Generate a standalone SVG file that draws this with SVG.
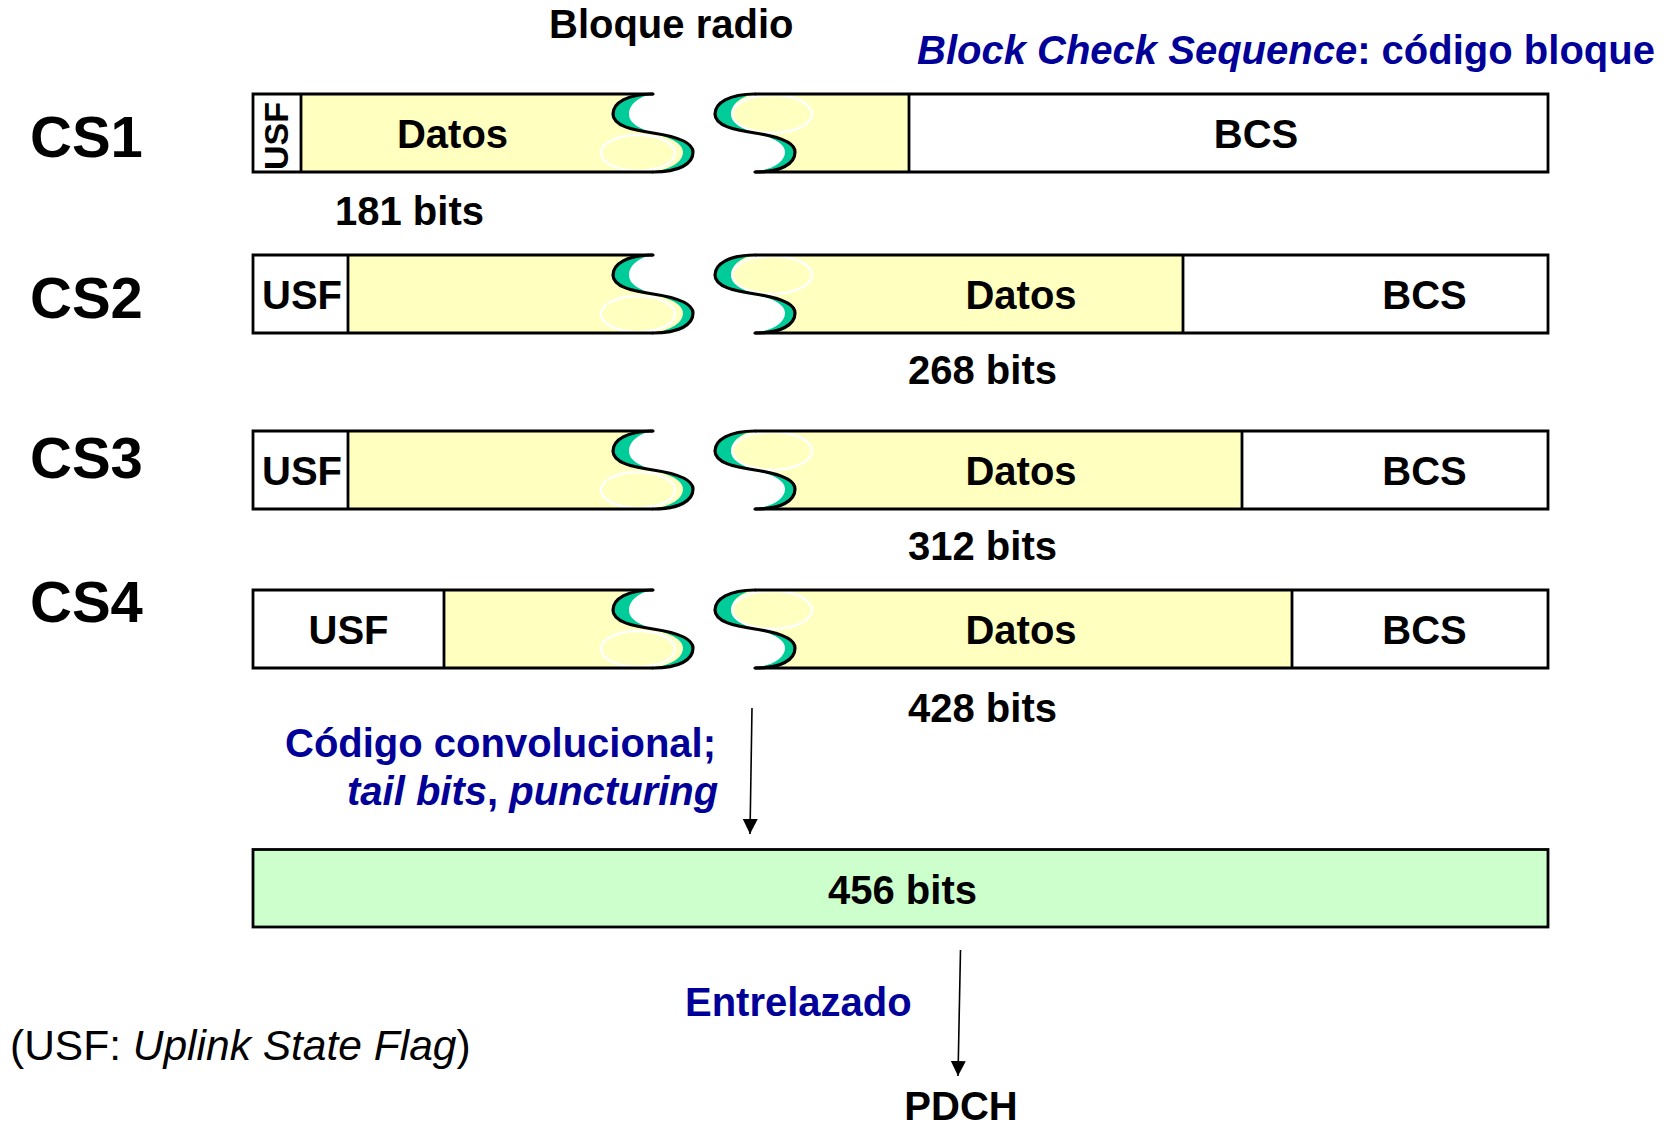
<svg xmlns="http://www.w3.org/2000/svg" xmlns:xlink="http://www.w3.org/1999/xlink" width="1665" height="1127" viewBox="0 0 1665 1127">
<style>
text{font-family:"Liberation Sans",Arial,Helvetica,sans-serif;font-weight:bold;fill:#000}
.blue{fill:#000099}
.lbl{font-size:40px}
.mid{text-anchor:middle}
.cs{font-size:58px}
.yel{fill:#FFFFBF;stroke:none}
.wht{fill:#FFFFFF;stroke:none}
.hl{fill:none;stroke:#FFFFFF;stroke-width:2.5}
.grn{fill:#00CC99;stroke:none}
.scv{fill:none;stroke:#000;stroke-width:3.2;stroke-linecap:round}
.edge{fill:none;stroke:#000;stroke-width:2.8}
.conn{fill:none;stroke:#000;stroke-width:1.6}
</style>
<defs>
<g id="scurve">
<path class="grn" d="M0,0 C-26,0 -40,9 -40,20 C-40,32 -20,36 0,39 C-12,35 -24,30 -24,20 C-24,10 -13,2 0,0 Z"/>
<path class="grn" d="M0,39 C20,42 40,47 40,58 C40,70 26,78 0,78 C18,75 30,68 30,58 C30,48 14,43 0,39 Z"/>
<path class="scv" d="M0,0 C-26,0 -40,9 -40,20 C-40,32 -20,36 0,39 C20,42 40,47 40,58 C40,70 26,78 0,78"/>
</g>
<marker id="ah" markerWidth="16" markerHeight="16" refX="15" refY="7.5" orient="auto" markerUnits="userSpaceOnUse">
<path d="M0,0 L15,7.5 L0,15 Z" fill="#000"/>
</marker>
</defs>
<rect width="1665" height="1127" fill="#FFFFFF"/>

<g id="titles">
<text class="lbl" x="549" y="38">Bloque radio</text>
<text class="blue" x="917" y="64" font-size="40"><tspan font-style="italic">Block Check Sequence</tspan>: código bloque</text>
</g>

<g id="cs-labels">
<text class="cs" x="30" y="157">CS1</text>
<text class="cs" x="30" y="318">CS2</text>
<text class="cs" x="30" y="478">CS3</text>
<text class="cs" x="30" y="622">CS4</text>
</g>

<g id="cs1" transform="translate(0,94)">
<path class="yel" d="M301,0 H653 C627,0 613,9 613,20 C613,32 633,36 653,39 C673,42 693,47 693,58 C693,70 679,78 653,78 H301 Z"/>
<rect class="wht" x="253" y="0" width="48" height="78"/>
<path class="yel" d="M755,0 C729,0 715,9 715,20 C715,32 735,36 755,39 C775,42 795,47 795,58 C795,70 781,78 755,78 H909 V0 Z"/>
<rect class="wht" x="909" y="0" width="639" height="78"/>
<ellipse class="hl" cx="638" cy="59" rx="37" ry="18"/>
<ellipse class="hl" cx="772" cy="20" rx="40" ry="19"/>
<use xlink:href="#scurve" href="#scurve" x="653" y="0"/>
<use xlink:href="#scurve" href="#scurve" x="755" y="0"/>
<path class="edge" d="M653,0 H253 V78 H653 M301,0 V78 M755,0 H1548 V78 H755 M909,0 V78"/>
<text class="mid" font-size="34" transform="translate(288,42) rotate(-90)">USF</text>
<text class="lbl mid" x="452.5" y="54">Datos</text>
<text class="lbl mid" x="1256" y="54">BCS</text>
</g>
<text id="cs1-bits" class="lbl" x="335" y="225">181 bits</text>

<g id="cs2" transform="translate(0,255)">
<path class="yel" d="M348,0 H653 C627,0 613,9 613,20 C613,32 633,36 653,39 C673,42 693,47 693,58 C693,70 679,78 653,78 H348 Z"/>
<rect class="wht" x="253" y="0" width="95" height="78"/>
<path class="yel" d="M755,0 C729,0 715,9 715,20 C715,32 735,36 755,39 C775,42 795,47 795,58 C795,70 781,78 755,78 H1183 V0 Z"/>
<rect class="wht" x="1183" y="0" width="365" height="78"/>
<ellipse class="hl" cx="638" cy="59" rx="37" ry="18"/>
<ellipse class="hl" cx="772" cy="20" rx="40" ry="19"/>
<use xlink:href="#scurve" href="#scurve" x="653" y="0"/>
<use xlink:href="#scurve" href="#scurve" x="755" y="0"/>
<path class="edge" d="M653,0 H253 V78 H653 M348,0 V78 M755,0 H1548 V78 H755 M1183,0 V78"/>
<text class="lbl mid" x="302" y="54">USF</text>
<text class="lbl mid" x="1021" y="54">Datos</text>
<text class="lbl mid" x="1424.5" y="54">BCS</text>
</g>
<text id="cs2-bits" class="lbl mid" x="982.5" y="384">268 bits</text>

<g id="cs3" transform="translate(0,431)">
<path class="yel" d="M348,0 H653 C627,0 613,9 613,20 C613,32 633,36 653,39 C673,42 693,47 693,58 C693,70 679,78 653,78 H348 Z"/>
<rect class="wht" x="253" y="0" width="95" height="78"/>
<path class="yel" d="M755,0 C729,0 715,9 715,20 C715,32 735,36 755,39 C775,42 795,47 795,58 C795,70 781,78 755,78 H1242 V0 Z"/>
<rect class="wht" x="1242" y="0" width="306" height="78"/>
<ellipse class="hl" cx="638" cy="59" rx="37" ry="18"/>
<ellipse class="hl" cx="772" cy="20" rx="40" ry="19"/>
<use xlink:href="#scurve" href="#scurve" x="653" y="0"/>
<use xlink:href="#scurve" href="#scurve" x="755" y="0"/>
<path class="edge" d="M653,0 H253 V78 H653 M348,0 V78 M755,0 H1548 V78 H755 M1242,0 V78"/>
<text class="lbl mid" x="302" y="54">USF</text>
<text class="lbl mid" x="1021" y="54">Datos</text>
<text class="lbl mid" x="1424.5" y="54">BCS</text>
</g>
<text id="cs3-bits" class="lbl mid" x="982.5" y="560">312 bits</text>

<g id="cs4" transform="translate(0,590)">
<path class="yel" d="M444,0 H653 C627,0 613,9 613,20 C613,32 633,36 653,39 C673,42 693,47 693,58 C693,70 679,78 653,78 H444 Z"/>
<rect class="wht" x="253" y="0" width="191" height="78"/>
<path class="yel" d="M755,0 C729,0 715,9 715,20 C715,32 735,36 755,39 C775,42 795,47 795,58 C795,70 781,78 755,78 H1292 V0 Z"/>
<rect class="wht" x="1292" y="0" width="256" height="78"/>
<ellipse class="hl" cx="638" cy="59" rx="37" ry="18"/>
<ellipse class="hl" cx="772" cy="20" rx="40" ry="19"/>
<use xlink:href="#scurve" href="#scurve" x="653" y="0"/>
<use xlink:href="#scurve" href="#scurve" x="755" y="0"/>
<path class="edge" d="M653,0 H253 V78 H653 M444,0 V78 M755,0 H1548 V78 H755 M1292,0 V78"/>
<text class="lbl mid" x="348.5" y="54">USF</text>
<text class="lbl mid" x="1021" y="54">Datos</text>
<text class="lbl mid" x="1424.5" y="54">BCS</text>
</g>
<text id="cs4-bits" class="lbl mid" x="982.5" y="722">428 bits</text>

<g id="burst">
<rect x="253" y="849.5" width="1295" height="77.5" fill="#CCFFCC" stroke="#000" stroke-width="2.8"/>
<text class="lbl mid" x="902.5" y="904">456 bits</text>
</g>

<g id="connectors">
<line class="conn" x1="752" y1="708" x2="750" y2="834" marker-end="url(#ah)"/>
<line class="conn" x1="960.5" y1="950" x2="958" y2="1076" marker-end="url(#ah)"/>
</g>

<g id="annotations">
<text class="lbl blue" x="285" y="757" textLength="431" lengthAdjust="spacingAndGlyphs">Código convolucional;</text>
<text class="lbl blue" x="347" y="805"><tspan font-style="italic">tail bits</tspan>, <tspan font-style="italic">puncturing</tspan></text>
<text class="lbl blue" x="685" y="1016">Entrelazado</text>
<text class="lbl mid" x="961" y="1120">PDCH</text>
<text x="10" y="1060" font-size="42.5" style="font-weight:normal">(USF: <tspan font-style="italic">Uplink State Flag</tspan>)</text>
</g>
</svg>
